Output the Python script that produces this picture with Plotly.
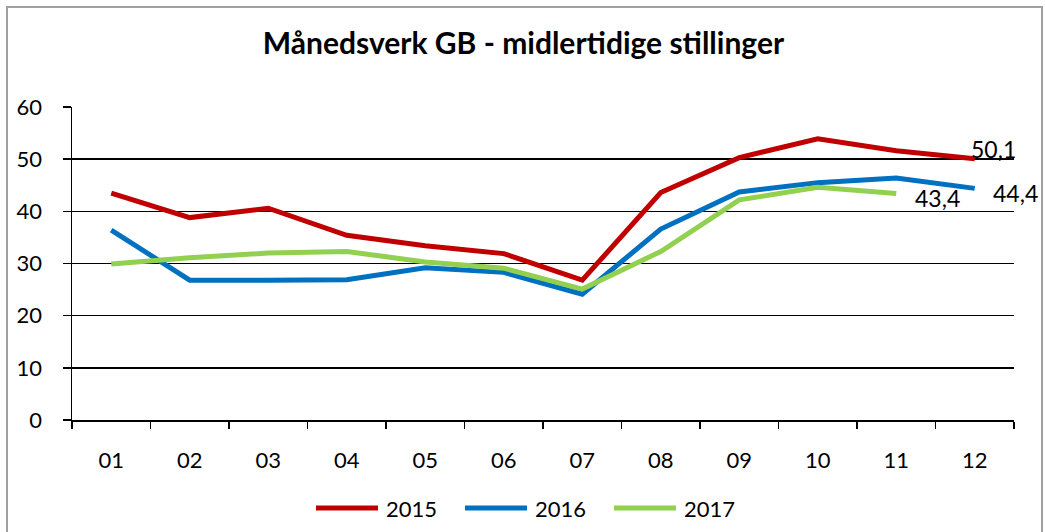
import plotly.graph_objects as go

months = ["01", "02", "03", "04", "05", "06", "07", "08", "09", "10", "11", "12"]
v2015 = [43.5, 38.8, 40.6, 35.4, 33.4, 31.9, 26.8, 43.6, 50.3, 53.9, 51.6, 50.1]
v2016 = [36.4, 26.8, 26.8, 26.9, 29.2, 28.3, 24.1, 36.6, 43.7, 45.5, 46.4, 44.4]
v2017 = [29.9, 31.1, 32.0, 32.3, 30.3, 29.1, 25.1, 32.3, 42.2, 44.6, 43.4]
series = [("2015", v2015, "#C00000"), ("2016", v2016, "#0070C0"), ("2017", v2017, "#92D050")]
title_text = "Månedsverk GB - midlertidige stillinger"
FONT = "Lato"

W, H = 1045, 532
ml, mr, mt, mb = 72, 31, 107, 112
pw, ph = W - ml - mr, H - mt - mb


def px(xp):
    return (xp - ml) / pw


def py(yp):
    return (H - mb - yp) / ph


fig = go.Figure()
for name, vals, col in series:
    fig.add_trace(go.Scatter(x=list(range(len(vals))), y=vals, name=name, mode="lines",
                             line=dict(color=col, width=5), showlegend=False))

# end-of-series data labels
label_offsets = {"2015": (-6, 10), "2016": (16, -5), "2017": (17, -4)}
for name, vals, col in series:
    dx, dy = label_offsets[name]
    fig.add_annotation(x=len(vals) - 1, y=vals[-1], xref="x", yref="y",
                       text=f"{vals[-1]:.1f}".replace(".", ","), showarrow=False,
                       xanchor="left", yanchor="middle", xshift=dx, yshift=dy,
                       font=dict(family=FONT, size=23, color="#000000"))

# legend (manual, to match long line samples)
for i, (name, vals, col) in enumerate(series):
    x0 = 316 + 149 * i
    fig.add_shape(type="line", xref="paper", yref="paper", x0=px(x0), x1=px(x0 + 62),
                  y0=py(508), y1=py(508), line=dict(color=col, width=5))
    fig.add_annotation(xref="paper", yref="paper", x=px(x0 + 68), y=py(508), text=name,
                       showarrow=False, xanchor="left", yanchor="middle",
                       font=dict(family=FONT, size=22, color="#000000"))

# outer chart border
fig.add_shape(type="rect", xref="paper", yref="paper",
              x0=px(7), x1=px(1042), y0=py(545), y1=py(7),
              line=dict(color="#A0A0A0", width=2), fillcolor="rgba(0,0,0,0)", layer="below")

fig.update_layout(
    width=W, height=H,
    margin=dict(l=ml, r=mr, t=mt, b=mb),
    paper_bgcolor="white", plot_bgcolor="white",
    font=dict(family=FONT, size=22, color="#000000"),
    title=dict(text=f"<b>{title_text}</b>", x=(265 + 782) / 2 / W, xref="container", xanchor="center",
               y=1 - 43 / H, yref="container", yanchor="middle",
               font=dict(family=FONT, size=30, color="#000000")),
    showlegend=False,
    hovermode=False,
    xaxis=dict(type="linear", showgrid=False, showline=True, linecolor="#000000", linewidth=1.5,
               tickmode="array", tickvals=list(range(len(months))), ticktext=months,
               ticks="", ticklabelstandoff=20, tickfont=dict(family=FONT, size=22),
               range=[-0.5, 11.5], zeroline=False, minor=dict(ticks="outside", tickmode="array",
               tickvals=[i - 0.5 for i in range(len(months) + 1)], ticklen=7,
               tickcolor="#000000", tickwidth=1.5, showgrid=False)),
    yaxis=dict(range=[0, 60], dtick=10, showgrid=True, gridcolor="#000000", gridwidth=1.5,
               showline=True, linecolor="#000000", linewidth=1.5, ticks="outside", ticklen=8,
               tickcolor="#000000", tickwidth=1.5, ticklabelstandoff=16,
               tickfont=dict(family=FONT, size=22), zeroline=False),
)

fig.write_html("out.html", config={"displayModeBar": False, "staticPlot": True},
               post_script="document.body.style.margin='0';document.body.style.overflow='hidden';")
